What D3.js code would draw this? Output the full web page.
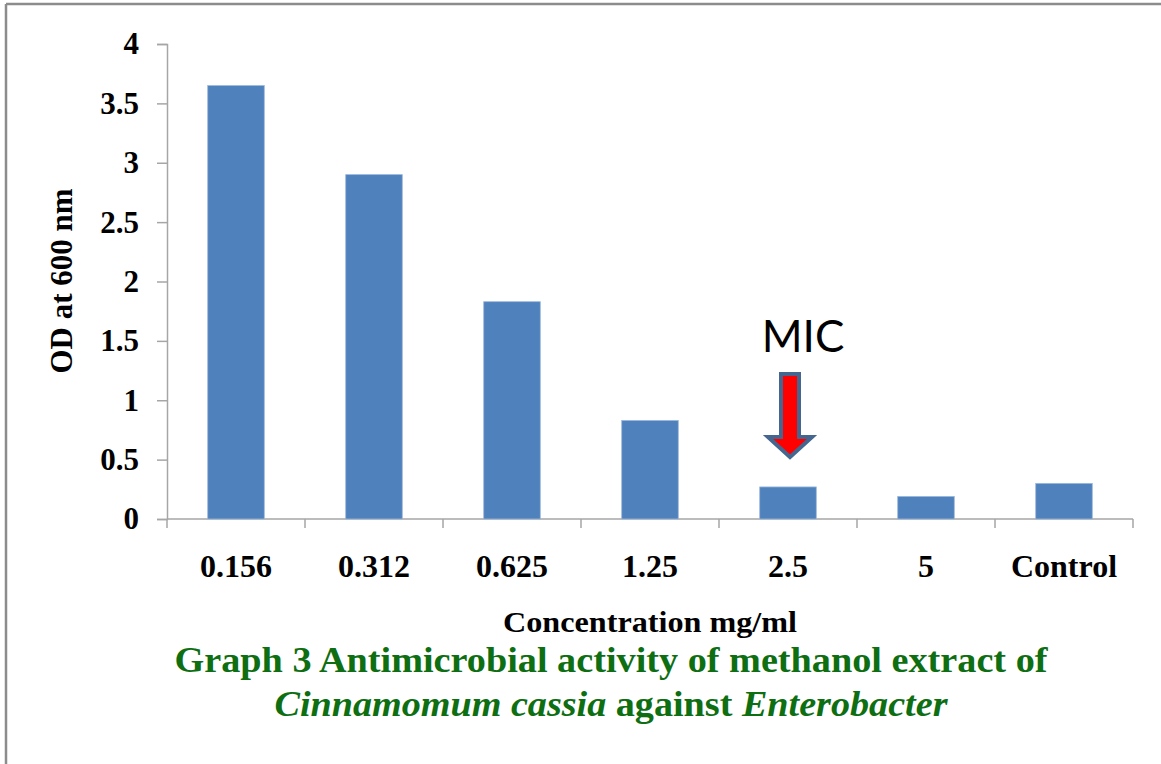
<!DOCTYPE html>
<html>
<head>
<meta charset="utf-8">
<script src="https://cdn.jsdelivr.net/npm/d3@7"></script>
<style>
  body { margin: 0; background: #fff; }
  text { font-family: "Liberation Serif", "Times New Roman", serif; }
</style>
</head>
<body>
<svg id="chart"></svg>
<script>
var categories = ["0.156", "0.312", "0.625", "1.25", "2.5", "5", "Control"];
var odValues = [3.65, 2.9, 1.83, 0.83, 0.27, 0.19, 0.30];
var yTicks = [0, 0.5, 1, 1.5, 2, 2.5, 3, 3.5, 4];
var micCategory = "2.5";

var W = 1161, H = 764;
var margin = {top: 44, right: 28, bottom: 245, left: 167}
  , width = W - margin.left - margin.right
  , height = H - margin.top - margin.bottom;

var svg = d3.select("#chart")
    .attr("width", W)
    .attr("height", H);

// page frame (top and left border only)
svg.append("line").attr("x1", 6).attr("x2", W).attr("y1", 4).attr("y2", 4)
    .attr("stroke", "#8c8c8c").attr("stroke-width", 2.5);
svg.append("line").attr("x1", 6).attr("x2", 6).attr("y1", 4).attr("y2", H)
    .attr("stroke", "#8c8c8c").attr("stroke-width", 2.5);

var g = svg.append("g")
    .attr("transform", "translate(" + margin.left + "," + margin.top + ")");

var yScale = d3.scaleLinear().domain([0, 4]).range([height, 0]);
var xOuter = d3.scaleBand().domain(categories).range([0, width]).padding(0);
var xScale = d3.scaleBand().domain(categories).range([0, width])
    .paddingInner(0.59).paddingOuter(0.295);

var axisColor = "#a6a6a6";

// y axis
var yAxis = g.append("g")
    .call(d3.axisLeft(yScale).tickValues(yTicks).tickSize(10).tickPadding(18)
        .tickFormat(function(d){ return d; }));
yAxis.select(".domain").attr("stroke", axisColor).attr("stroke-width", 1.5);
yAxis.selectAll(".tick line").attr("stroke", axisColor).attr("stroke-width", 1.5);
yAxis.selectAll(".tick text")
    .attr("fill", "#000")
    .style("font-size", "31px")
    .style("font-weight", "bold")
    .style("font-family", "'Liberation Serif', serif");

// x axis line with ticks between categories
g.append("line")
    .attr("x1", 0).attr("x2", width)
    .attr("y1", height).attr("y2", height)
    .attr("stroke", axisColor).attr("stroke-width", 1.5);

var bounds = categories.map(function(c){ return xOuter(c); }).concat([width]);
g.selectAll(".xtick")
    .data(bounds)
    .enter().append("line")
    .attr("class", "xtick")
    .attr("x1", function(d){ return d; })
    .attr("x2", function(d){ return d; })
    .attr("y1", height)
    .attr("y2", height + 9)
    .attr("stroke", axisColor).attr("stroke-width", 1.5);

g.selectAll(".xlabel")
    .data(categories)
    .enter().append("text")
    .attr("class", "xlabel")
    .attr("x", function(d){ return xOuter(d) + xOuter.bandwidth() / 2; })
    .attr("y", height + 58)
    .attr("text-anchor", "middle")
    .style("font-size", "32px")
    .style("font-weight", "bold")
    .text(function(d){ return d; });

// bars
var data = categories.map(function(c, i){ return {cat: c, v: odValues[i]}; });
g.selectAll("rect.bar")
    .data(data)
    .enter().append("rect")
    .attr("class", "bar")
    .attr("fill", "#4f81bd")
    .attr("stroke", "#9bb8dc")
    .attr("stroke-width", 0.8)
    .attr("x", function(d){ return xScale(d.cat); })
    .attr("y", function(d){ return yScale(d.v); })
    .attr("width", xScale.bandwidth())
    .attr("height", function(d){ return height - yScale(d.v); });

// y axis title
svg.append("text")
    .attr("transform", "translate(72," + (margin.top + 237) + ") rotate(-90)")
    .attr("text-anchor", "middle")
    .style("font-size", "31px")
    .style("font-weight", "bold")
    .text("OD at 600 nm");

// x axis title
svg.append("text")
    .attr("x", 650)
    .attr("y", 632)
    .attr("text-anchor", "middle")
    .attr("textLength", 294)
    .attr("lengthAdjust", "spacingAndGlyphs")
    .style("font-size", "29px")
    .style("font-weight", "bold")
    .text("Concentration mg/ml");

// caption
var green = "#0e6e12";
svg.append("text")
    .attr("x", 611)
    .attr("y", 672)
    .attr("text-anchor", "middle")
    .attr("textLength", 873)
    .attr("lengthAdjust", "spacingAndGlyphs")
    .attr("fill", green)
    .style("font-size", "35px")
    .style("font-weight", "bold")
    .text("Graph 3 Antimicrobial  activity  of methanol  extract  of");

var cap2 = svg.append("text")
    .attr("x", 611)
    .attr("y", 716)
    .attr("text-anchor", "middle")
    .attr("textLength", 673)
    .attr("lengthAdjust", "spacingAndGlyphs")
    .attr("fill", green)
    .style("font-size", "35px")
    .style("font-weight", "bold");
cap2.append("tspan").style("font-style", "italic").text("Cinnamomum cassia");
cap2.append("tspan").text(" against  ");
cap2.append("tspan").style("font-style", "italic").text("Enterobacter");

// MIC marker
var cx = margin.left + xScale(micCategory) + xScale.bandwidth() / 2 + 2;
svg.append("text")
    .attr("x", cx + 13)
    .attr("y", 352)
    .attr("text-anchor", "middle")
    .style("font-family", "Lato, 'Open Sans', sans-serif")
    .style("font-size", "44px")
    .text("MIC");

var arrow = [
  [cx - 9, 374], [cx + 9, 374], [cx + 9, 437], [cx + 22, 437],
  [cx, 457], [cx - 22, 437], [cx - 9, 437]
];
svg.append("path")
    .attr("d", d3.line()(arrow) + "Z")
    .attr("fill", "#ff0000")
    .attr("stroke", "#44668f")
    .attr("stroke-width", 4)
    .attr("stroke-linejoin", "miter");
</script>
</body>
</html>
